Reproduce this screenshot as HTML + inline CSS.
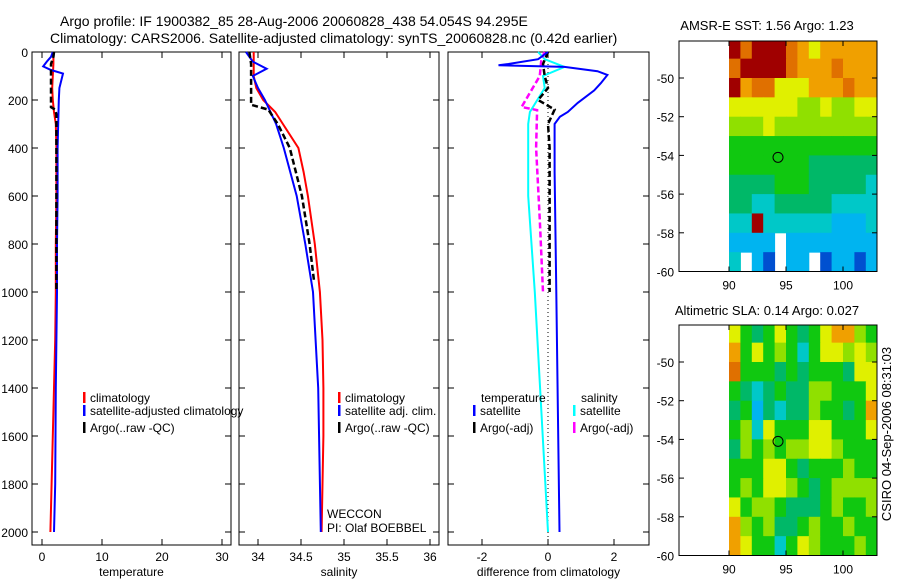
<!DOCTYPE html>
<html><head><meta charset="utf-8">
<style>
html,body{margin:0;padding:0;background:#fff;}
svg{display:block;font-family:"Liberation Sans",sans-serif;}
text{fill:#000;}
</style></head>
<body>
<svg id="fig" width="900" height="580" viewBox="0 0 900 580" xmlns="http://www.w3.org/2000/svg">
<text x="60" y="26" font-size="14">Argo profile: IF 1900382_85 28-Aug-2006 20060828_438 54.054S 94.295E</text>
<text x="50" y="43" font-size="14">Climatology: CARS2006. Satellite-adjusted climatology: synTS_20060828.nc (0.42d earlier)</text>
<text x="767" y="30" font-size="13" text-anchor="middle">AMSR-E SST: 1.56 Argo: 1.23</text>
<text x="767" y="315" font-size="13" text-anchor="middle">Altimetric SLA: 0.14 Argo: 0.027</text>
<text transform="translate(891,434) rotate(-90)" font-size="13" text-anchor="middle">CSIRO 04-Sep-2006 08:31:03</text>
<g id="layer"></g>
</svg>
<script>
// ---- profile data ----
const tempDepthClim = [0,50,100,150,200,250,300,400,600,800,1000,1200,1400,1600,1800,2000];
const tempClim = [1.9,1.9,1.8,1.7,1.8,2.0,2.3,2.4,2.4,2.3,2.3,2.2,2.0,1.8,1.6,1.4];
const tempDepthSat = [0,20,40,60,75,90,110,150,200,300,400,600,800,1000,1400,1800,2000];
const tempSat = [1.8,1.5,0.8,0.2,1.5,3.5,3.3,2.9,2.8,2.7,2.6,2.6,2.5,2.5,2.3,2.2,2.0];
const argoDepth = [0,20,50,100,150,200,230,240,260,300,400,600,800,1000];
const tempArgo = [2.0,1.9,1.5,1.5,1.5,1.5,1.5,2.2,2.4,2.4,2.4,2.4,2.4,2.4];

const salDepthClim = [0,50,100,150,200,250,300,400,500,600,800,1000,1200,1400,1600,1800,2000];
const salClim = [33.95,33.95,33.95,33.98,34.06,34.2,34.29,34.47,34.53,34.58,34.66,34.72,34.75,34.76,34.76,34.75,34.74];
const salDepthSat = [0,40,70,100,150,200,300,400,600,800,1000,1400,2000];
const salSat = [33.86,33.94,34.1,33.94,34.0,34.08,34.21,34.3,34.45,34.55,34.64,34.7,34.73];
const salDepthArgo = [0,50,100,150,220,240,300,400,600,800,950];
const salArgo = [33.9,33.92,33.92,33.92,33.92,34.12,34.23,34.37,34.51,34.6,34.65];

const diffDepthTS = [0,30,50,55,62,80,96,130,160,212,250,270,300,500,1000,1500,2000];
const diffTempSat = [0,-0.3,-1.2,-1.5,0.5,1.5,1.8,1.6,1.4,0.9,0.6,0.36,0.2,0.2,0.25,0.3,0.35];
const diffDepthSS = [0,30,62,100,150,250,300,600,1000,1500,2000];
const diffSalSat = [-0.3,-0.1,0.5,-0.15,-0.1,-0.55,-0.6,-0.6,-0.4,-0.2,0];
const diffDepthTA = [0,50,100,150,200,240,300,400,700,1000];
const diffTempArgo = [0,-0.15,-0.1,0,-0.3,0.2,0,0.05,0.05,0.05];
const diffDepthSA = [0,30,100,170,229,242,400,700,1000];
const diffSalArgo = [-0.1,-0.2,-0.25,-0.55,-0.8,-0.33,-0.36,-0.25,-0.15];

const depthTicks = [0,200,400,600,800,1000,1200,1400,1600,1800,2000];
const tempTicks = [0,10,20,30];
const salTicks = [34,34.5,35,35.5,36];
const diffTicks = [-2,0,2];

// ---- map data (1-degree cells, rows from -48 down to -60, cols lon 90..103) ----
const mapLonStart = 90;
const mapLatTop = -48;
const sstGrid = [
[9,8,9,9,9,8,7,6,7,7,7,7,7],
[8,9,9,9,9,8,7,7,7,8,7,7,7],
[9,7,8,8,6,6,6,7,7,7,8,7,7],
[6,6,6,6,6,6,5,5,6,5,5,6,6],
[5,5,5,6,5,5,5,5,5,5,5,5,5],
[4,4,4,4,4,4,4,4,4,4,4,4,4],
[4,4,4,4,4,4,4,3,3,3,3,3,3],
[3,3,3,3,4,4,4,3,3,3,3,3,2],
[3,3,2,2,3,3,3,3,3,2,2,2,2],
[2,2,9,2,2,2,2,2,2,1,1,1,2],
[1,1,1,1,-1,1,1,1,1,1,1,1,1],
[2,-1,1,0,-1,1,1,-1,0,1,1,0,1]];
const slaGrid = [
[6,4,3,4,6,4,3,4,6,7,7,5,4],
[7,4,6,4,5,4,2,4,6,6,5,6,5],
[8,4,4,4,3,4,3,4,4,4,3,6,6],
[4,3,2,3,4,3,3,5,5,4,4,4,6],
[3,4,1,3,2,3,3,5,4,4,3,4,7],
[4,5,2,6,4,4,4,6,6,4,4,4,6],
[3,5,4,5,4,5,5,6,6,5,4,4,4],
[4,4,4,6,6,4,3,4,4,4,5,4,4],
[4,5,4,6,6,5,4,3,4,5,5,5,5],
[6,4,5,5,4,3,3,3,4,5,4,4,5],
[7,5,4,5,3,3,4,5,4,4,5,4,4],
[7,6,4,4,2,4,6,5,4,4,4,5,4]];
const argoLon = 94.3, argoLat = -54.1;
const latTicks = [-50,-52,-54,-56,-58,-60];
const lonTicks = [90,95,100];

const NS = "http://www.w3.org/2000/svg";
const layer = document.getElementById('layer');
function el(tag, attrs, parent){
  const e = document.createElementNS(NS, tag);
  for (const k in attrs) e.setAttribute(k, attrs[k]);
  (parent||layer).appendChild(e);
  return e;
}
const yTop = 52, yScale = 0.24;
const yD = d => yTop + d*yScale;

function panel(name, x0, x1, xf, ticks, label, showDepth){
  const g = el('g', {});
  
  
  const r = el('rect', {x:x0, y:yTop, width:x1-x0, height:545-yTop, fill:'none', stroke:'#000', 'stroke-width':1}, g);
  
  
  ticks.forEach(t => {
    const x = xf(t);
    el('line', {x1:x, x2:x, y1:545, y2:539, stroke:'#000'}, g);
    el('line', {x1:x, x2:x, y1:yTop, y2:yTop+6, stroke:'#000'}, g);
    const tx = el('text', {x:x, y:561, 'font-size':12, 'text-anchor':'middle'}, g);
    tx.textContent = String(t);
    
    
  });
  depthTicks.forEach(d => {
    const y = yD(d);
    el('line', {x1:x0, x2:x0+6, y1:y, y2:y, stroke:'#000'}, g);
    el('line', {x1:x1, x2:x1-6, y1:y, y2:y, stroke:'#000'}, g);
    if (showDepth){
      const tx = el('text', {x:x0-4, y:y+5, 'font-size':12, 'text-anchor':'end'}, g);
      tx.textContent = String(d);
      
      
    }
  });
  const lt = el('text', {x:(x0+x1)/2, y:576, 'font-size':12, 'text-anchor':'middle'}, g);
  lt.textContent = label;
  
  
  return g;
}
function line(g, name, depths, vals, xf, color, width, dash){
  const pts = depths.map((d,i) => xf(vals[i]).toFixed(1) + ',' + yD(d).toFixed(1)).join(' ');
  const p = el('polyline', {points:pts, fill:'none', stroke:color, 'stroke-width':width}, g);
  if (dash) p.setAttribute('stroke-dasharray', dash);
  
  
}
function legend(g, x, y, color, text, name){
  el('rect', {x:x, y:y-10, width:2.5, height:11, fill:color}, g);
  const t = el('text', {x:x+7, y:y, 'font-size':12}, g);
  t.textContent = text;
  
  
}

// Panel 1: temperature
const xT = v => 42 + 6.0*v;
const g1 = panel('temperature-panel', 32, 231, xT, tempTicks, 'temperature', true);
line(g1, 'temperature-climatology-line', tempDepthClim, tempClim, xT, '#f00', 2);
line(g1, 'temperature-satellite-line', tempDepthSat, tempSat, xT, '#00f', 2);
line(g1, 'temperature-argo-line', argoDepth, tempArgo, xT, '#000', 2.5, '6,3');
legend(g1, 83, 402, '#f00', 'climatology', 'legend-climatology');
legend(g1, 83, 415, '#00f', 'satellite-adjusted climatology', 'legend-satellite-adjusted');
legend(g1, 83, 432, '#000', 'Argo(..raw -QC)', 'legend-argo');

// Panel 2: salinity
const xS = v => 258 + 86*(v-34);
const g2 = panel('salinity-panel', 239, 439, xS, salTicks, 'salinity', false);
line(g2, 'salinity-climatology-line', salDepthClim, salClim, xS, '#f00', 2);
line(g2, 'salinity-satellite-line', salDepthSat, salSat, xS, '#00f', 2);
line(g2, 'salinity-argo-line', salDepthArgo, salArgo, xS, '#000', 2.5, '6,3');
legend(g2, 338, 402, '#f00', 'climatology', 'legend-sal-climatology');
legend(g2, 338, 415, '#00f', 'satellite adj. clim.', 'legend-sal-satellite');
legend(g2, 338, 432, '#000', 'Argo(..raw -QC)', 'legend-sal-argo');
const w1 = el('text', {x:327, y:518, 'font-size':12}, g2); w1.textContent = 'WECCON';


const w2 = el('text', {x:327, y:532, 'font-size':12}, g2); w2.textContent = 'PI: Olaf BOEBBEL';



// Panel 3: differences
const xDf = v => 548 + 33*v;
const g3 = panel('difference-panel', 448, 649, xDf, diffTicks, 'difference from climatology', false);
el('line', {x1:xDf(0), x2:xDf(0), y1:yTop, y2:545, stroke:'#000', 'stroke-dasharray':'1,3'}, g3);
line(g3, 'diff-salinity-satellite-line', diffDepthSS, diffSalSat, xDf, '#0ff', 2);
line(g3, 'diff-salinity-argo-line', diffDepthSA, diffSalArgo, xDf, '#f0f', 2.5, '6,3');
line(g3, 'diff-temperature-argo-line', diffDepthTA, diffTempArgo, xDf, '#000', 2.5, '6,3');
line(g3, 'diff-temperature-satellite-line', diffDepthTS, diffTempSat, xDf, '#00f', 2);
const th = el('text', {x:481, y:402, 'font-size':12}, g3); th.textContent = 'temperature';


const sh = el('text', {x:581, y:402, 'font-size':12}, g3); sh.textContent = 'salinity';


legend(g3, 473, 415, '#00f', 'satellite', 'legend-diff-temp-satellite');
legend(g3, 473, 432, '#000', 'Argo(-adj)', 'legend-diff-temp-argo');
legend(g3, 573, 415, '#0ff', 'satellite', 'legend-diff-sal-satellite');
legend(g3, 573, 432, '#f0f', 'Argo(-adj)', 'legend-diff-sal-argo');

// Maps
const palette = ['#0050d0','#00b4f0','#00c8c8','#00b868','#10c810','#90e000','#e0f000','#f0a000','#e07000','#a00000'];
function mapPanel(name, grid, yTopM, latY50){
  const g = el('g', {});
  
  
  const x90 = 729, pxLon = 11.4, pxLat = 19.35;
  const lonX = lon => x90 + (lon-90)*pxLon;
  const latY = lat => latY50 + (-50-lat)*pxLat;
  const x0 = 679, x1 = 877, yB = latY(-60);
  grid.forEach((row, r) => row.forEach((v, c) => {
    if (v < 0) return;
    const xa = lonX(mapLonStart + c), xb = Math.min(lonX(mapLonStart + c + 1), x1);
    const ya = Math.max(latY(mapLatTop - r), yTopM), yb = latY(mapLatTop - r - 1);
    const cell = el('rect', {x:xa, y:ya, width:xb-xa+0.5, height:yb-ya+0.5, fill:palette[v]}, g);
    
    
  }));
  const fr = el('rect', {x:x0, y:yTopM, width:x1-x0, height:yB-yTopM, fill:'none', stroke:'#000'}, g);
  
  
  latTicks.forEach(l => {
    const y = latY(l);
    el('line', {x1:x0, x2:x0+5, y1:y, y2:y, stroke:'#000'}, g);
    el('line', {x1:x1, x2:x1-5, y1:y, y2:y, stroke:'#000'}, g);
    const t = el('text', {x:x0-5, y:y+5, 'font-size':12, 'text-anchor':'end'}, g);
    t.textContent = String(l);
    
    
  });
  lonTicks.forEach(l => {
    const x = lonX(l);
    el('line', {x1:x, x2:x, y1:yB, y2:yB-5, stroke:'#000'}, g);
    el('line', {x1:x, x2:x, y1:yTopM, y2:yTopM+5, stroke:'#000'}, g);
    const t = el('text', {x:x, y:yB+18, 'font-size':12, 'text-anchor':'middle'}, g);
    t.textContent = String(l);
    
    
  });
  const c = el('circle', {cx:lonX(argoLon), cy:latY(argoLat), r:5, fill:'none', stroke:'#000'}, g);
  
  
}
mapPanel('sst-map', sstGrid, 41, 78);
mapPanel('sla-map', slaGrid, 325, 362);
</script>
</body></html>
